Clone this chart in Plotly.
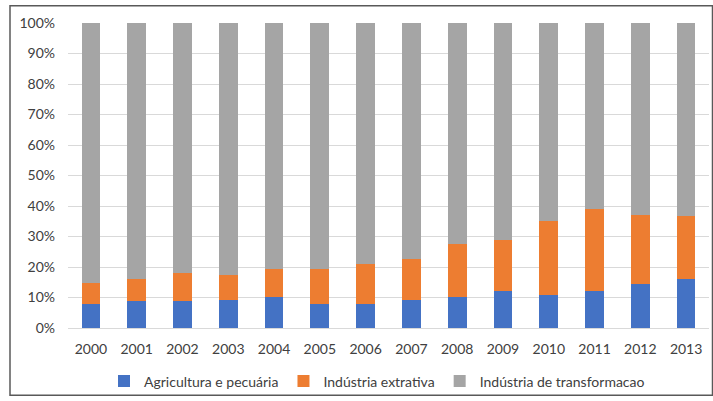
import plotly.graph_objects as go

years = [str(y) for y in range(2000, 2014)]
agric = [7.8, 8.9, 8.9, 9.2, 10.1, 7.8, 7.8, 9.2, 10.1, 12.2, 10.9, 12.2, 14.5, 16.2]
extr_top = [14.9, 16.1, 18.0, 17.4, 19.2, 19.2, 21.1, 22.5, 27.5, 28.9, 35.0, 39.0, 37.0, 36.6]
extrativa = [round(t - a, 1) for t, a in zip(extr_top, agric)]
transf = [round(100 - t, 1) for t in extr_top]

names = ["Agricultura e pecuária", "Indústria extrativa", "Indústria de transformacao"]
colors = ["#4472C4", "#ED7D31", "#A5A5A5"]
series = [agric, extrativa, transf]

fig = go.Figure()
for n, c, s in zip(names, colors, series):
    fig.add_trace(go.Bar(x=years, y=[v / 100 for v in s], name=n, marker_color=c,
                         marker_line_width=0))

W, H = 713, 401
L, R, T, B = 68, 4, 23, 70
pw, ph = W - L - R, H - T - B

def px(x):
    return (x - L) / pw

def py(y):
    return (H - B - y) / ph

fig.update_layout(
    width=W, height=H,
    margin=dict(l=L, r=R, t=T, b=B),
    barmode="stack", bargap=0.59,
    plot_bgcolor="white", paper_bgcolor="white",
    font=dict(family="Lato, Liberation Sans, sans-serif", size=14, color="#595959"),
    xaxis=dict(showgrid=False, showline=True, linecolor="#d9d9d9", linewidth=1,
               ticks="", ticklabelstandoff=8, tickfont=dict(size=14, color="#404040")),
    yaxis=dict(range=[0, 1], tickformat=".0%", dtick=0.1, showgrid=True,
               gridcolor="#d9d9d9", gridwidth=1, zeroline=False, showline=False,
               ticks="", ticklabelstandoff=12, tickfont=dict(size=14, color="#404040")),
    legend=dict(orientation="h", x=px(104), xanchor="left", y=py(385), yanchor="middle",
                font=dict(size=14, color="#404040"), traceorder="normal",
                itemwidth=30, bgcolor="rgba(0,0,0,0)"),
    showlegend=True,
    shapes=[dict(type="rect", xref="paper", yref="paper",
                 x0=px(10), x1=px(712.5), y0=py(399), y1=py(5.5),
                 line=dict(color="#595959", width=1.5), fillcolor="rgba(0,0,0,0)",
                 layer="below")],
)

fig.write_html("out.html", config={"displayModeBar": False},
               post_script="document.body.style.margin='0';document.body.style.overflow='hidden';")
